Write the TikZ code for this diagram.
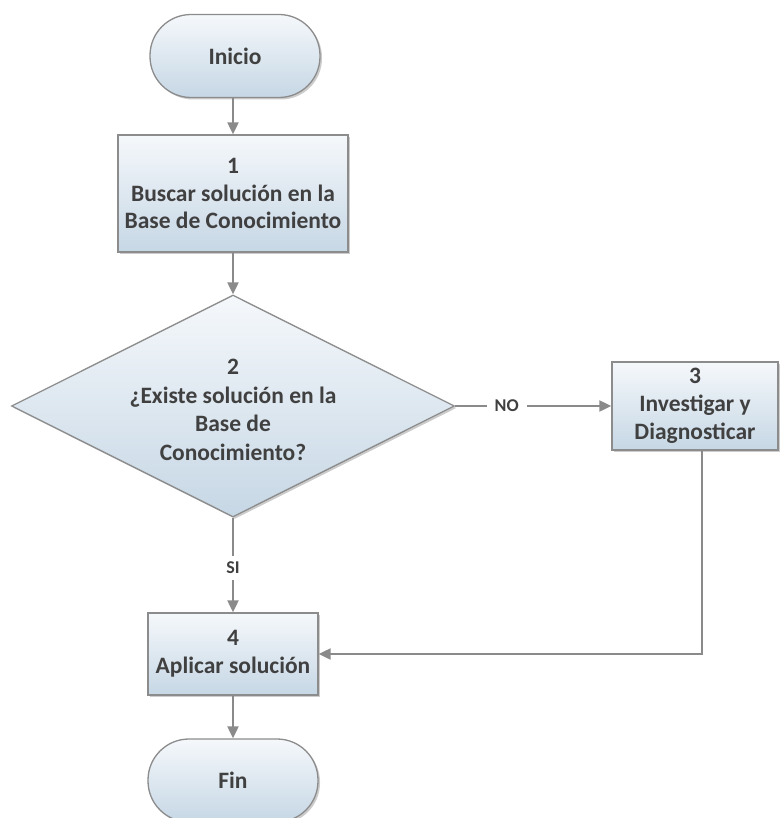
\documentclass[tikz,border=0pt]{standalone}
\usepackage{fontspec}
\setmainfont{Carlito}
\usetikzlibrary{shapes.geometric,arrows.meta,shadows}
\definecolor{txt}{HTML}{404040}
\definecolor{edge}{HTML}{8C8C8C}
\definecolor{conn}{HTML}{8A8A8A}
\definecolor{topc}{HTML}{F5F8FB}
\definecolor{botc}{HTML}{C6D7E5}
\tikzset{
  x=1pt,y=1pt,
  base/.style={draw=edge, line width=1.3pt, top color=topc, bottom color=botc,
    text=txt, font=\fontsize{23.5}{27.8}\selectfont\bfseries, align=center,
    drop shadow={shadow xshift=2pt, shadow yshift=-2pt, opacity=0.2, fill=black}},
  term/.style={base, rectangle, rounded corners=41pt, minimum width=170pt, minimum height=83pt, inner sep=0pt},
  procbox/.style={base, rectangle, inner sep=0pt},
  decis/.style={base, diamond, aspect=2, minimum width=443pt, minimum height=222pt, inner sep=0pt},
  conarrow/.style={draw=conn, line width=2pt, -{Triangle[width=11pt,length=12pt]}},
  elabel/.style={fill=white, text=txt, font=\fontsize{18}{20}\selectfont\bfseries, inner xsep=8pt, inner ysep=6pt}
}
\begin{document}
\begin{tikzpicture}
\useasboundingbox (0,0) rectangle (779,-818);
\node[term] (ini) at (235,-56) {Inicio};
\node[procbox, minimum width=230pt, minimum height=117pt] (b1) at (233,-193.5) {1\\Buscar solución en la\\Base de Conocimiento};
\node[decis] (d2) at (233,-406) {};
\node[text=txt, font=\fontsize{23.5}{28.5}\selectfont\bfseries, align=center] (d2t) at (233,-410) {2\\¿Existe solución en la\\Base de\\Conocimiento?};
\node[procbox, minimum width=166pt, minimum height=88pt] (b3) at (695,-406) {3\\Investigar y\\Diagnosticar};
\node[procbox, minimum width=170pt, minimum height=82pt] (b4) at (233,-654) {4\\Aplicar solución};
\node[term] (fin) at (233,-780.5) {Fin};
\draw[conarrow] (ini.south -| b1.north) -- (b1.north);
\draw[conarrow] (b1.south) -- (d2.north);
\draw[conarrow] (d2.east) -- node[elabel, pos=0.33] (no) {NO} (b3.west);
\draw[conarrow] (d2.south) -- node[elabel, pos=0.53] (si) {SI} (b4.north);
\draw[conarrow] ([xshift=7pt]b3.south) |- (b4.east);
\draw[conarrow] (b4.south) -- (fin.north);
\end{tikzpicture}
\end{document}
